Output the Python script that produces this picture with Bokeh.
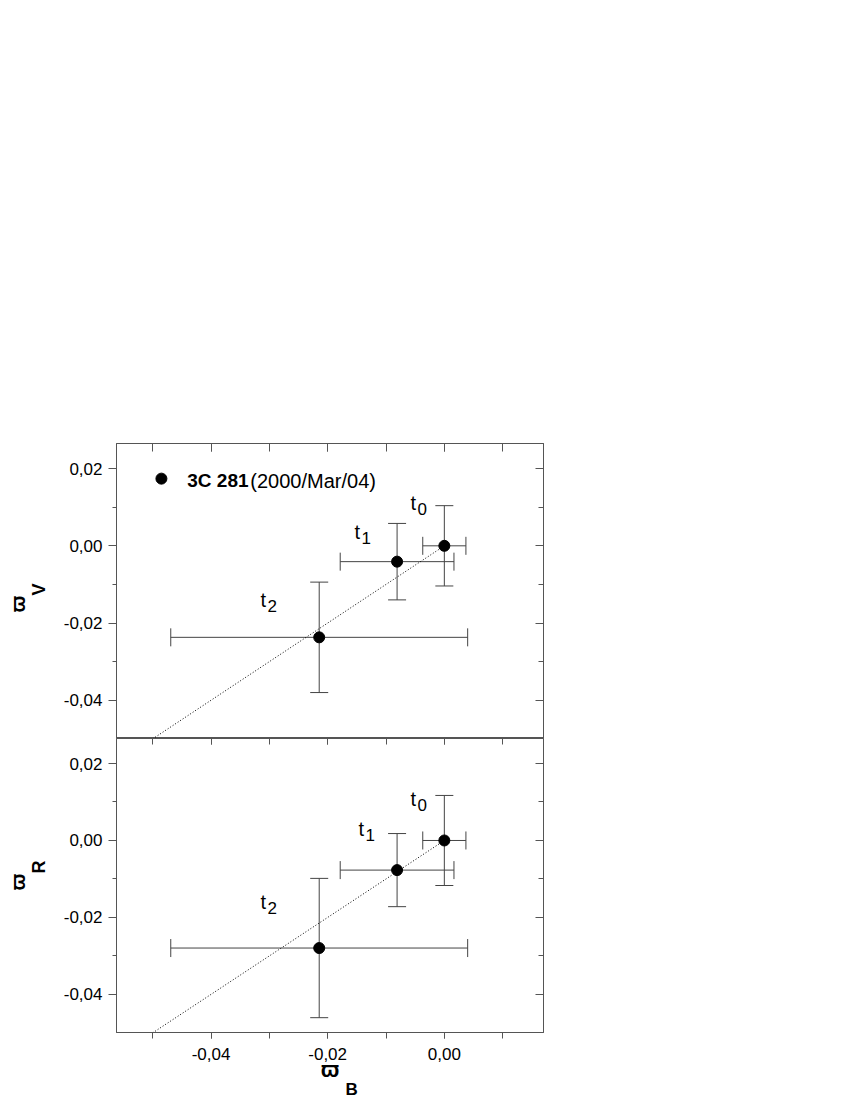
import numpy as np
from bokeh.plotting import figure
from bokeh.models import (ColumnDataSource, Whisker, TeeHead, LinearAxis, Title,
                          SingleIntervalTicker, CustomJSTickFormatter, Range1d, Label)
from bokeh.layouts import column
from bokeh.embed import file_html
from bokeh.resources import INLINE
from bokeh.core.properties import value

# ---------------- data ----------------
epochs = ["0", "1", "2"]
wB = [0.0, -0.0081, -0.02145]
wB_err = [0.0037, 0.00975, 0.02545]
wV = [0.0, -0.0041, -0.0237]
wV_err = [0.0104, 0.0099, 0.0143]
wR = [0.0, -0.0077, -0.02795]
wR_err = [0.0117, 0.0095, 0.0181]
fit_x = [-0.05, 0.0]
fit_slope_V = 1.0
fit_slope_R = 1.0

# epoch label anchors (baseline of "t")
lab_V_x = [-0.0058, -0.0154, -0.0315]
lab_V_y = [0.0099, 0.0023, -0.0153]
lab_R_x = [-0.0058, -0.0147, -0.0315]
lab_R_y = [0.0096, 0.0018, -0.0174]

legend_name = "3C 281"
legend_date = "(2000/Mar/04)"
axis_symbol = "\u03d6"
x_sub, yV_sub, yR_sub = "B", "V", "R"

XR = (-0.0562, 0.0170)
YR = (-0.0499, 0.0265)

FONT = "Liberation Sans"
AX_COL = "#555555"
ERR_COL = "#444444"

P_W = 558
TOP_H = 738
BOT_H = 362

fmt = CustomJSTickFormatter(code="""
    if (Math.abs(tick) < 1e-9) { return "0,00"; }
    return tick.toFixed(2).replace('.', ',');
""")
blank_fmt = CustomJSTickFormatter(code="return '';")


def style_axis(ax, tin, tout, mtin, mtout, labels):
    ax.ticker = SingleIntervalTicker(interval=0.02, num_minor_ticks=2)
    ax.axis_line_color = AX_COL
    ax.major_tick_line_color = AX_COL
    ax.minor_tick_line_color = AX_COL
    ax.major_tick_in = tin
    ax.major_tick_out = tout
    ax.minor_tick_in = mtin
    ax.minor_tick_out = mtout
    if labels:
        ax.formatter = fmt
        ax.major_label_text_font = FONT
        ax.major_label_text_font_size = "17px"
        ax.major_label_text_color = "black"
    else:
        ax.formatter = blank_fmt
        ax.major_label_text_font_size = "0px"
        ax.major_label_standoff = 0


def make_panel(y, yerr, slope, lx, ly, sub, sub_off, sym_off, bottom):
    if bottom:
        p = figure(width=P_W, height=BOT_H, x_range=Range1d(*XR), y_range=Range1d(*YR),
                   x_axis_location=None, y_axis_location=None,
                   toolbar_location=None, output_backend="svg",
                   min_border_left=116, min_border_right=15,
                   min_border_top=0, min_border_bottom=BOT_H - 294)
    else:
        p = figure(width=P_W, height=TOP_H, x_range=Range1d(*XR), y_range=Range1d(*YR),
                   x_axis_location=None, y_axis_location=None,
                   toolbar_location=None, output_backend="svg",
                   min_border_left=116, min_border_right=15,
                   min_border_top=443, min_border_bottom=0)
    p.xgrid.grid_line_color = None
    p.ygrid.grid_line_color = None
    p.outline_line_color = AX_COL

    left = LinearAxis()
    style_axis(left, 0, 8, 0, 4, True)
    left.major_label_standoff = 6
    p.add_layout(left, "left")
    # y title: subscript (inner) and varpi (outer)
    p.add_layout(Title(text=sub, align="left", offset=sub_off, standoff=23,
                       vertical_align="bottom", text_font=FONT,
                       text_font_size="18px", text_font_style="bold",
                       text_color="black"), "left")
    p.add_layout(Title(text=axis_symbol, align="left", offset=sym_off, standoff=-27,
                       vertical_align="bottom", text_font=FONT,
                       text_font_size="20px", text_font_style="bold",
                       text_color="black"), "left")

    right = LinearAxis()
    style_axis(right, 8, 0, 5, 0, False)
    p.add_layout(right, "right")

    top = LinearAxis()
    if bottom:
        style_axis(top, 6, 0, 6, 0, False)
    else:
        style_axis(top, 8, 0, 8, 0, False)
    p.add_layout(top, "above")

    if bottom:
        below = LinearAxis()
        style_axis(below, 0, 6, 0, 6, True)
        below.major_label_standoff = 9
        below.axis_label = axis_symbol
        below.axis_label_text_font = FONT
        below.axis_label_text_font_size = "22px"
        below.axis_label_text_font_style = "bold"
        below.axis_label_text_color = "black"
        below.axis_label_standoff = -6
        p.add_layout(below, "below")
        p.add_layout(Title(text=x_sub, align="left", offset=229, standoff=-10,
                           vertical_align="top", text_font=FONT,
                           text_font_size="17px", text_font_style="bold",
                           text_color="black"), "below")

    # fit line
    p.line(fit_x, [slope * v for v in fit_x], line_color="black",
           line_dash="1 2", line_width=1)

    src = ColumnDataSource(dict(
        x=wB, y=y,
        xl=[a - e for a, e in zip(wB, wB_err)], xu=[a + e for a, e in zip(wB, wB_err)],
        yl=[a - e for a, e in zip(y, yerr)], yu=[a + e for a, e in zip(y, yerr)],
    ))
    for dim, base, lo, up in (("height", "x", "yl", "yu"), ("width", "y", "xl", "xu")):
        p.add_layout(Whisker(source=src, base=base, lower=lo, upper=up, dimension=dim,
                             line_color=ERR_COL, line_width=1,
                             upper_head=TeeHead(size=18, line_color=ERR_COL, line_width=1),
                             lower_head=TeeHead(size=18, line_color=ERR_COL, line_width=1)))

    p.scatter("x", "y", source=src, size=11, color="black")

    # epoch labels t_i
    lsrc = ColumnDataSource(dict(x=lx, y=ly, t=["t"] * len(epochs), s=epochs))
    p.text("x", "y", text="t", source=lsrc, text_font=value(FONT),
           text_font_size="20px", text_color="black", text_baseline="alphabetic",
           text_align="left", y_offset=-5)
    p.text("x", "y", text="s", source=lsrc, text_font=value(FONT),
           text_font_size="17px", text_color="black", text_baseline="alphabetic",
           text_align="left", x_offset=7, y_offset=1)
    return p


p1 = make_panel(wV, wV_err, fit_slope_V, lab_V_x, lab_V_y, yV_sub, 143, 126, False)
p2 = make_panel(wR, wR_err, fit_slope_R, lab_R_x, lab_R_y, yR_sub, 159, 142, True)

# legend (bold name + normal date)
p1.scatter([-0.0485], [0.0174], size=11, color="black")
p1.add_layout(Label(x=-0.04407, y=0.01584, y_offset=4, text=legend_name, text_font=FONT,
                    text_font_size="19px", text_font_style="bold",
                    text_baseline="alphabetic", text_color="black"))
p1.add_layout(Label(x=-0.03326, y=0.01584, y_offset=4, text=legend_date, text_font=FONT,
                    text_font_size="20px", text_baseline="alphabetic",
                    text_color="black"))

layout = column(p1, p2, spacing=0)
open("out.html", "w").write(file_html(layout, INLINE))
